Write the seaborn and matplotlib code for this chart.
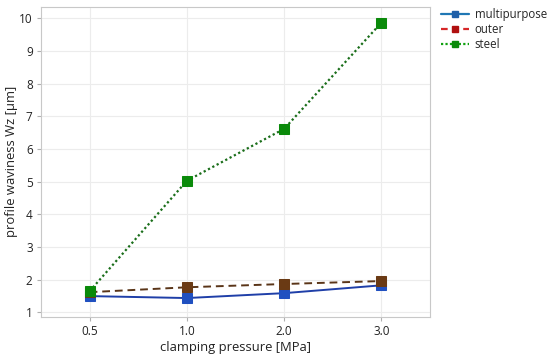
import matplotlib
matplotlib.use("Agg")
import matplotlib.pyplot as plt
import seaborn as sns
import pandas as pd

pressure = ["0.5", "1.0", "2.0", "3.0"]
multipurpose = [1.50, 1.44, 1.59, 1.83]
outer = [1.62, 1.77, 1.87, 1.96]
steel = [1.65, 5.03, 6.62, 9.87]

sns.set_style("white")
plt.rcParams['font.family'] = ['Open Sans', 'DejaVu Sans']

fig = plt.figure(figsize=(5.5, 3.56), dpi=100)
ax = fig.add_axes([0.0745, 0.110, 0.7075, 0.871])

series = [
    ("multipurpose", multipurpose, "#1f3fa8", "#2050c0", "-", 1.4),
    ("outer", outer, "#5a3518", "#6a3a14", (0, (4, 2.5)), 1.4),
    ("steel", steel, "#1a6e1a", "#0a8a0a", (0, (1, 1.2)), 1.6),
]
for name, vals, lc, mc, ls, lw in series:
    df = pd.DataFrame({"p": pressure, "w": vals})
    sns.lineplot(data=df, x="p", y="w", ax=ax, color=lc, linestyle=ls, lw=lw,
                 marker="s", markersize=7.5, markerfacecolor=mc, markeredgecolor=mc,
                 label=name, legend=False)

ax.set_xlim(-0.5, 3.5)
ax.set_ylim(0.865, 10.355)
ax.set_yticks(range(1, 11))
ax.grid(True, color="#ececec", lw=0.8)
ax.set_axisbelow(True)
for s in ax.spines.values():
    s.set_color("#c8c8c8")
ax.tick_params(axis="both", which="both", length=3, color="#b0b0b0",
               labelsize=8.5, labelcolor="#222222", bottom=True, left=True, pad=3)
ax.set_xlabel("clamping pressure [MPa]", fontsize=9.4, color="#222222", labelpad=2)
ax.set_ylabel("profile waviness Wz [µm]", fontsize=9.4, color="#222222", labelpad=1)

from matplotlib.lines import Line2D
handles = [
    Line2D([], [], color="#1f77b4", ls="-", lw=1.6, marker="s", markersize=4, markerfacecolor="#1f5fa8", markeredgecolor="#1f5fa8"),
    Line2D([], [], color="#d62728", ls=(0, (3, 2)), lw=1.6, marker="s", markersize=4, markerfacecolor="#b01010", markeredgecolor="#b01010"),
    Line2D([], [], color="#10a010", ls=(0, (1, 1)), lw=1.6, marker="s", markersize=4, markerfacecolor="#0a8a0a", markeredgecolor="#0a8a0a"),
]
fig.legend(handles, ["multipurpose", "outer", "steel"], loc="upper left",
           bbox_to_anchor=(0.798, 0.985), frameon=False, fontsize=8.3,
           handlelength=2.4, handletextpad=0.5, labelspacing=0.2, borderpad=0.2,
           borderaxespad=0)

fig.savefig("out.png", dpi=100)
